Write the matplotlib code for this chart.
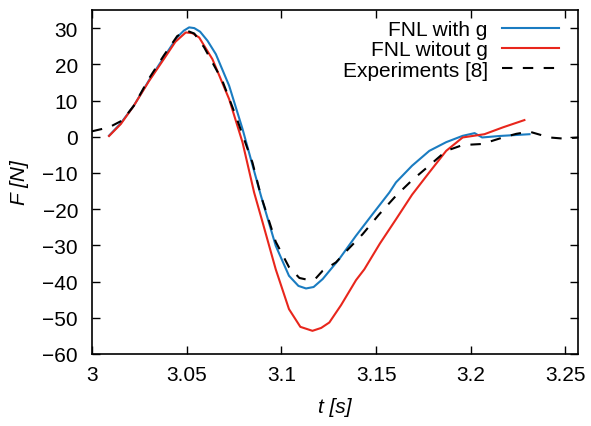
import matplotlib
matplotlib.use("Agg")
import matplotlib.pyplot as plt

# FNL with g
t_with = [3.009, 3.015, 3.022, 3.030, 3.038, 3.045, 3.0485, 3.0513, 3.054, 3.0571, 3.061,
          3.0654, 3.0724, 3.0795, 3.0892, 3.097, 3.104, 3.109, 3.113, 3.117, 3.1218,
          3.1305, 3.1393, 3.1481, 3.157, 3.1605, 3.169, 3.1781, 3.187, 3.1957,
          3.202, 3.206, 3.215, 3.231]
f_with = [0.3, 3.6, 8.5, 15.5, 22.0, 27.5, 29.3, 30.2, 30.0, 29.0, 26.5,
          22.8, 14.1, 2.1, -16.3, -30.1, -38.4, -41.2, -41.9, -41.5, -39.3,
          -33.8, -27.4, -21.4, -15.4, -12.6, -8.0, -3.9, -1.5, 0.25,
          1.0, -0.2, 0.2, 0.7]

# FNL without g
t_without = [3.009, 3.0152, 3.022, 3.030, 3.038, 3.044, 3.0495, 3.053, 3.0566, 3.0636,
             3.0724, 3.0795, 3.0856, 3.090, 3.097, 3.104, 3.110, 3.1164, 3.121,
             3.1253, 3.1315, 3.1394, 3.1438, 3.152, 3.1605, 3.169, 3.178, 3.187,
             3.1957, 3.2072, 3.217, 3.2283]
f_without = [0.2, 3.5, 8.5, 15.3, 21.5, 26.2, 28.8, 28.6, 27.4, 21.4,
             10.4, -1.6, -15.4, -23.5, -36.6, -47.6, -52.5, -53.6, -52.8,
             -51.3, -46.5, -39.6, -36.6, -29.5, -22.8, -16.0, -9.9, -3.9,
             -0.2, 0.7, 2.6, 4.6]

# Experiments [8]
t_exp = [3.0, 3.009, 3.016, 3.022, 3.030, 3.038, 3.045, 3.050, 3.054, 3.0592,
         3.0688, 3.0759, 3.0847, 3.0892, 3.097, 3.104, 3.1095, 3.1138, 3.118, 3.1218,
         3.1288, 3.135, 3.1429, 3.1515, 3.1605, 3.169, 3.178, 3.187, 3.1957,
         3.206, 3.217, 3.224, 3.231, 3.2415, 3.2486, 3.2574]
f_exp = [1.5, 2.6, 4.5, 8.5, 16.0, 22.5, 27.8, 29.3, 28.5, 24.7,
         15.5, 5.8, -7.1, -16.3, -29.0, -36.0, -39.0, -39.5, -39.2, -37.0,
         -34.7, -31.2, -26.9, -21.5, -16.3, -12.0, -8.0, -3.9, -2.3,
         -2.0, -0.2, 0.8, 1.4, -0.2, -0.5, -0.2]

xticks = [3, 3.05, 3.1, 3.15, 3.2, 3.25]
xticklabels = ["3", "3.05", "3.1", "3.15", "3.2", "3.25"]
yticks = [30, 20, 10, 0, -10, -20, -30, -40, -50, -60]

plt.rcParams['font.family'] = ['Liberation Sans', 'DejaVu Sans']
plt.rcParams['font.size'] = 15

fig = plt.figure(figsize=(5.91, 4.27), dpi=100)
ax = fig.add_axes([92 / 591, 1 - 355 / 427, (578 - 92) / 591, (355 - 11) / 427])

ax.plot(t_with, f_with, color='#1a7cc1', lw=1.5, label='FNL with g')
ax.plot(t_without, f_without, color='#e8261c', lw=1.5, label='FNL witout g')
ax.plot(t_exp, f_exp, color='black', lw=1.5, dashes=(5, 5), label='Experiments [8]')

ax.set_xlim(3, 3.2566)
ax.set_ylim(-60, 35)
ax.set_xticks(xticks)
ax.set_xticklabels(xticklabels)
ax.set_yticks(yticks)
ax.tick_params(direction='in', top=True, right=True, length=6, width=1, pad=8)
ax.tick_params(axis='y', pad=10)
for s in ax.spines.values():
    s.set_linewidth(1.2)

ax.set_xlabel('t [s]', style='italic', labelpad=9)
ax.set_ylabel('F [N]', style='italic', labelpad=10)

ax.legend(loc='upper right', frameon=False, markerfirst=False,
          handlelength=2.7, handletextpad=0.7, labelspacing=0.05,
          borderaxespad=0.3, bbox_to_anchor=(0.99, 1.012))

fig.savefig('out.png', dpi=100)
